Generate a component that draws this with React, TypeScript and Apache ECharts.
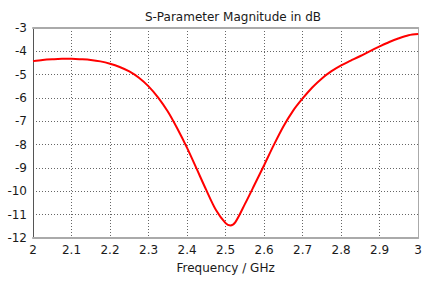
import React, { useEffect, useRef } from "react";
import * as echarts from "echarts";

const freqGHz = [
  2.0, 2.025, 2.05, 2.075, 2.1, 2.125, 2.15, 2.175, 2.2, 2.225, 2.25, 2.275,
  2.3, 2.325, 2.35, 2.375, 2.4, 2.425, 2.45, 2.475, 2.5, 2.5125, 2.525, 2.55,
  2.575, 2.6, 2.625, 2.65, 2.675, 2.7, 2.725, 2.75, 2.775, 2.8, 2.825, 2.85,
  2.875, 2.9, 2.925, 2.95, 2.975, 3.0,
];
const magnitudeDb = [
  -4.42, -4.37, -4.34, -4.32, -4.32, -4.34, -4.37, -4.43, -4.53, -4.67, -4.86,
  -5.13, -5.5, -5.98, -6.58, -7.32, -8.14, -9.04, -9.95, -10.8, -11.36, -11.46,
  -11.33, -10.55, -9.72, -8.88, -8.02, -7.22, -6.55, -6.02, -5.55, -5.16,
  -4.85, -4.6, -4.4, -4.2, -3.99, -3.79, -3.6, -3.44, -3.31, -3.26,
];
const titleText = "S-Parameter Magnitude in dB";
const xAxisName = "Frequency / GHz";

const FONT = "DejaVu Sans";

export default function App() {
  const ref = useRef<HTMLDivElement>(null);
  useEffect(() => {
    if (!ref.current) return;
    const chart = echarts.init(ref.current, undefined, { renderer: "svg" });
    const data = freqGHz.map((f, i) => [f, magnitudeDb[i]]);
    chart.setOption({
      animation: false,
      backgroundColor: "#ffffff",
      title: {
        text: titleText,
        left: 228,
        textAlign: "center",
        top: 6,
        textStyle: { fontFamily: FONT, fontSize: 12, fontWeight: "normal", color: "#1a1a1a" },
      },
      grid: { left: 33, right: 2, top: 28, bottom: 43 },
      xAxis: [
        {
          type: "value",
          min: 2,
          max: 3,
          interval: 0.1,
          name: xAxisName,
          nameLocation: "middle",
          nameGap: 24,
          nameTextStyle: { fontFamily: FONT, fontSize: 12, color: "#1a1a1a" },
          axisLine: { show: true, lineStyle: { color: "#aaaaaa", width: 2 } },
          axisTick: { show: false },
          axisLabel: {
            fontFamily: FONT,
            fontSize: 12,
            color: "#1a1a1a",
            margin: 6,
            formatter: (v: number) => String(Math.round(v * 10) / 10),
          },
          splitLine: { show: true, lineStyle: { color: "#666", type: [1, 2], width: 1 } },
        },
        {
          type: "value",
          position: "top",
          min: 2,
          max: 3,
          interval: 0.1,
          axisLine: { show: true, lineStyle: { color: "#aaaaaa", width: 2 } },
          axisTick: { show: false },
          axisLabel: { show: false },
          splitLine: { show: false },
        },
      ],
      yAxis: [
        {
          type: "value",
          min: -12,
          max: -3,
          interval: 1,
          axisLine: { show: true, onZero: false, lineStyle: { color: "#555", width: 1 } },
          axisTick: { show: false },
          axisLabel: { fontFamily: FONT, fontSize: 12, color: "#1a1a1a", margin: 6 },
          splitLine: { show: true, lineStyle: { color: "#666", type: [1, 2], width: 1 } },
        },
        {
          type: "value",
          position: "right",
          min: -12,
          max: -3,
          interval: 1,
          axisLine: { show: true, onZero: false, lineStyle: { color: "#aaaaaa", width: 1 } },
          axisTick: { show: false },
          axisLabel: { show: false },
          splitLine: { show: false },
        },
      ],
      series: [
        {
          type: "line",
          data,
          smooth: 0.3,
          showSymbol: false,
          clip: true,
          lineStyle: { color: "#ff0000", width: 2 },
        },
      ],
    });
    return () => chart.dispose();
  }, []);
  return (
    <div
      ref={ref}
      style={{ width: 425, height: 281, position: "fixed", left: 0, top: 0 }}
    />
  );
}
